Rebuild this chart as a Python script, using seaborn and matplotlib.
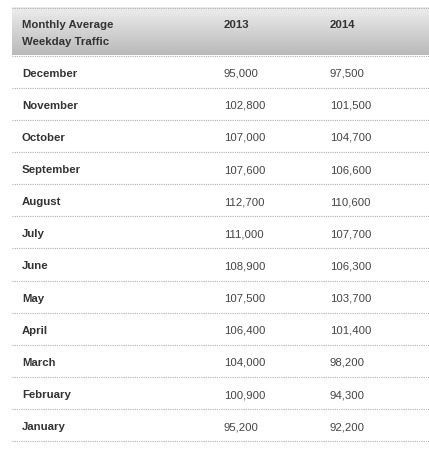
import numpy as np
import matplotlib.pyplot as plt
import seaborn as sns
from matplotlib.colors import LinearSegmentedColormap

sns.set_style('white')
plt.rcParams['font.family'] = ['Liberation Sans', 'DejaVu Sans']

# dados da tabela
header = ['Monthly Average\nWeekday Traffic', '2013', '2014']
months = ['December', 'November', 'October', 'September', 'August', 'July',
          'June', 'May', 'April', 'March', 'February', 'January']
traffic_2013 = [95000, 102800, 107000, 107600, 112700, 111000,
                108900, 107500, 106400, 104000, 100900, 95200]
traffic_2014 = [97500, 101500, 104700, 106600, 110600, 107700,
                106300, 103700, 101400, 98200, 94300, 92200]

W, H = 429, 457
fig = plt.figure(figsize=(W / 100, H / 100), dpi=100)
ax = fig.add_axes([0, 0, 1, 1])
ax.set_xlim(0, W)
ax.set_ylim(H, 0)
ax.axis('off')

left, right = 12, 429
head_top, head_bot = 7.5, 55.5
row_h = 32.15
col_x = [22, 224, 330]

# cabeçalho com gradiente
cmap = LinearSegmentedColormap.from_list('hdr', ['#ededed', '#b9b9b9'])
grad = np.linspace(0, 1, 100).reshape(-1, 1)
ax.imshow(grad, cmap=cmap, aspect='auto',
          extent=(left, right, head_bot, head_top), zorder=0)

hdr_kw = dict(fontsize=8.2, fontweight='bold', color='#333333', ha='left', va='center')
for j, line in enumerate(header[0].split('\n')):
    ax.text(col_x[0], 25.5 + 16.7 * j, line, **hdr_kw)
for x, lab in zip(col_x[1:], header[1:]):
    ax.text(x, 25.5, lab, **hdr_kw)

line_kw = dict(color='#b0b0b0', lw=0.8, linestyle=(0, (1, 1)))
ax.plot([left, right], [head_top, head_top], **line_kw)
ax.plot([left, right], [head_bot, head_bot], **line_kw)

for i, (m, a, b) in enumerate(zip(months, traffic_2013, traffic_2014)):
    yc = head_bot + row_h * (i + 0.5) + 2
    ax.text(col_x[0], yc, m, fontsize=8.2, fontweight='bold', color='#333333',
            va='center', ha='left')
    ax.text(col_x[1], yc, f'{a:,}', fontsize=8.2, color='#444444',
            va='center', ha='left')
    ax.text(col_x[2], yc, f'{b:,}', fontsize=8.2, color='#444444',
            va='center', ha='left')
    yl = head_bot + row_h * (i + 1)
    ax.plot([left, right], [yl, yl], **line_kw)

fig.savefig('out.png', dpi=100)
